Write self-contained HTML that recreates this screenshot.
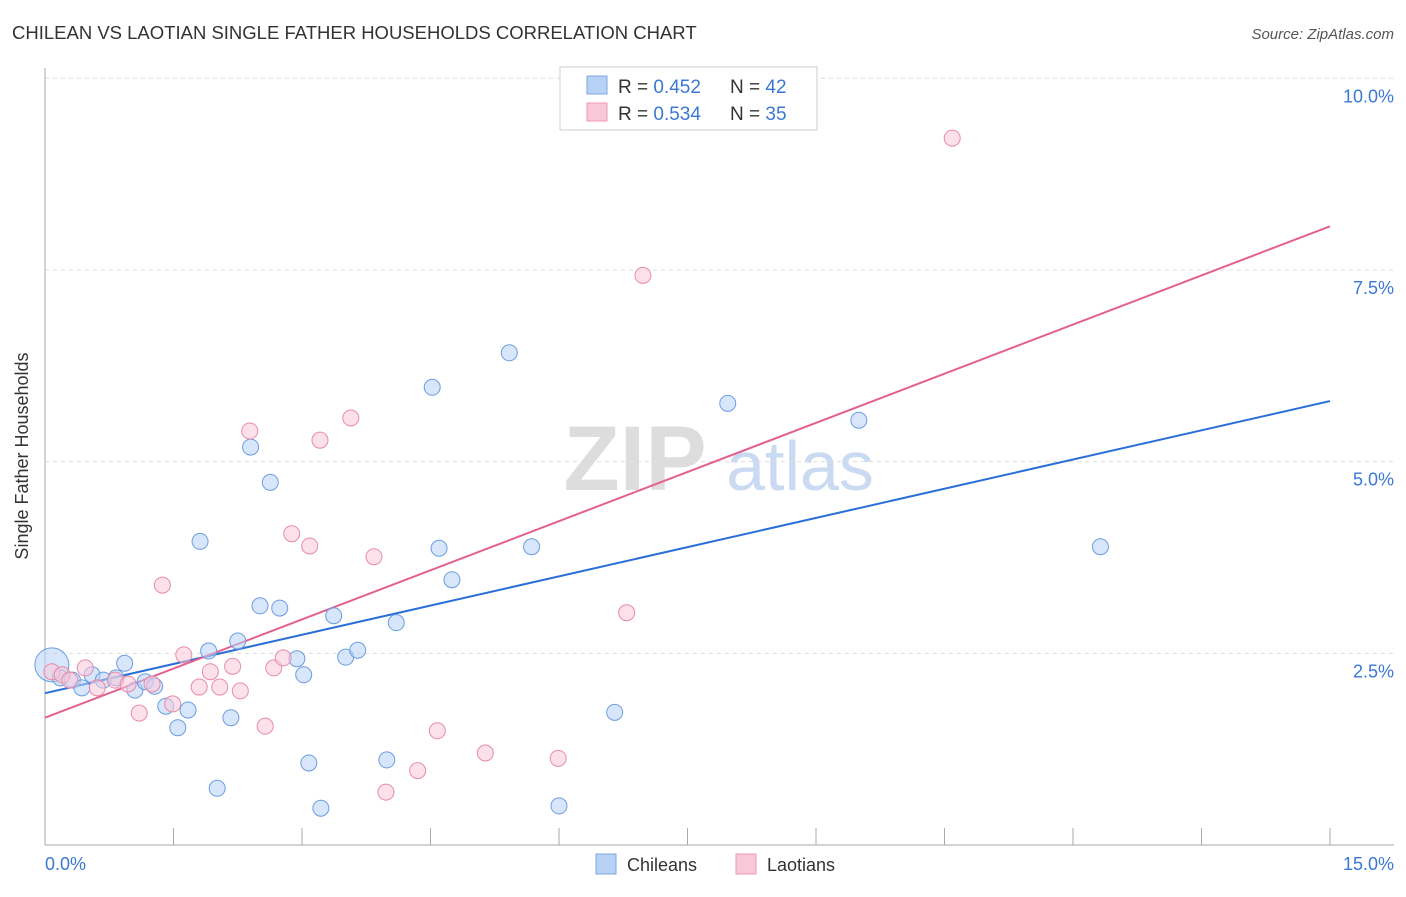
<!DOCTYPE html>
<html><head><meta charset="utf-8"><style>
body{margin:0;background:#fff;font-family:"Liberation Sans",sans-serif}
svg text{font-family:"Liberation Sans",sans-serif}
</style></head><body>
<svg width="1406" height="892" xmlns="http://www.w3.org/2000/svg">
<text x="12" y="39" font-size="18.5" fill="#333">CHILEAN VS LAOTIAN SINGLE FATHER HOUSEHOLDS CORRELATION CHART</text>
<text x="1394" y="39" font-size="15" fill="#555" text-anchor="end" font-style="italic">Source: ZipAtlas.com</text>
<text x="635" y="490" font-size="92" fill="#ddd" font-family="Liberation Serif" font-weight="bold" text-anchor="middle">ZIP</text>
<text x="800" y="490" font-size="70" fill="#c9daf2" text-anchor="middle">atlas</text>
<g id="grid"></g><g id="axes"></g><g id="lines"></g><g id="pts"></g>
<text x="28" y="456" font-size="18" fill="#333" transform="rotate(-90 28 456)" text-anchor="middle">Single Father Households</text>
<text x="45" y="870" font-size="18" fill="#3a78d4">0.0%</text>
<text x="1394" y="870" font-size="18" fill="#3a78d4" text-anchor="end">15.0%</text>
<g>
<rect x="560" y="67" width="257" height="63" fill="#fff" stroke="#ccc"/>
<rect x="587" y="76" width="20" height="18" fill="#b7d2f5" stroke="#7aa7e6"/>
<rect x="587" y="103" width="20" height="18" fill="#f9c8d8" stroke="#ec9ab6"/>
<text x="618" y="93" font-size="19" fill="#333">R = <tspan fill="#3a78d4">0.452</tspan></text>
<text x="730" y="93" font-size="19" fill="#333">N = <tspan fill="#3a78d4">42</tspan></text>
<text x="618" y="120" font-size="19" fill="#333">R = <tspan fill="#3a78d4">0.534</tspan></text>
<text x="730" y="120" font-size="19" fill="#333">N = <tspan fill="#3a78d4">35</tspan></text>
</g>
<g>
<rect x="596" y="854" width="20" height="20" fill="#b7d2f5" stroke="#7aa7e6"/>
<text x="627" y="871" font-size="18" fill="#333">Chileans</text>
<rect x="736" y="854" width="20" height="20" fill="#f9c8d8" stroke="#ec9ab6"/>
<text x="767" y="871" font-size="18" fill="#333">Laotians</text>
</g>
</svg>
<script>
const yTicks=[2.5,5.0,7.5,10.0];
const xTicks=[0,1.5,3,4.5,6,7.5,9,10.5,12,13.5,15];
const chileX=[0.08,0.18,0.32,0.43,0.55,0.68,0.83,0.93,1.05,1.17,1.28,1.41,1.55,1.67,1.81,1.91,2.01,2.17,2.25,2.40,2.51,2.63,2.74,2.94,3.02,3.08,3.22,3.37,3.51,3.65,3.99,4.10,4.52,4.60,4.75,5.42,5.68,6.00,6.65,7.97,9.50,12.32];
const chileY=[2.35,2.18,2.15,2.05,2.22,2.15,2.18,2.37,2.02,2.13,2.07,1.81,1.53,1.76,3.96,2.53,0.74,1.66,2.66,5.19,3.12,4.73,3.09,2.43,2.22,1.07,0.48,2.99,2.45,2.54,1.11,2.90,5.97,3.87,3.46,6.42,3.89,0.51,1.73,5.76,5.54,3.89];
const laoX=[0.08,0.20,0.29,0.47,0.61,0.82,0.97,1.10,1.25,1.37,1.49,1.62,1.80,1.93,2.04,2.19,2.28,2.39,2.57,2.67,2.78,2.88,3.09,3.21,3.57,3.84,3.98,4.35,4.58,5.14,5.99,6.79,6.98,10.59];
const laoY=[2.26,2.22,2.15,2.31,2.05,2.15,2.10,1.72,2.10,3.39,1.84,2.48,2.06,2.26,2.06,2.33,2.01,5.40,1.55,2.31,2.44,4.06,3.90,5.28,5.57,3.76,0.69,0.97,1.49,1.20,1.13,3.03,7.43,9.22];
const chileTrend=[1.98,5.79];
const laoTrend=[1.66,8.07];
const X=v=>45+v/15*1285, Y=v=>845-v*76.67;
const NS='http://www.w3.org/2000/svg';
function mk(p,t,a){const e=document.createElementNS(NS,t);for(const k in a)e.setAttribute(k,a[k]);document.getElementById(p).appendChild(e);return e;}
yTicks.forEach(t=>{
 const l=mk('grid','line',{x1:45,x2:1394,y1:Y(t),y2:Y(t),stroke:'#ddd','stroke-dasharray':'4 4'});
 
 
 const s=mk('grid','text',{x:1394,y:Y(t)+24,'font-size':18,fill:'#3a78d4','text-anchor':'end'});
 s.textContent=t.toFixed(1)+'%';
 
 
});
const ax=mk('axes','line',{x1:45,x2:45,y1:68,y2:845,stroke:'#aaa'});


const bx=mk('axes','line',{x1:45,x2:1394,y1:845,y2:845,stroke:'#aaa'});


xTicks.forEach(t=>{
 const l=mk('axes','line',{x1:X(t),x2:X(t),y1:828,y2:845,stroke:'#aaa'});
 
 
});
function series(xs,ys,fill,stroke,name){
 xs.forEach((x,i)=>{
  const c=mk('pts','circle',{cx:X(x),cy:Y(ys[i]),r:i===0&&name==='chilean-point'?17:8,fill:fill,'fill-opacity':0.55,stroke:stroke,'stroke-width':1});
  
  
 });
}
series(chileX,chileY,'#b7d2f5','#6c9de0','chilean-point');
series(laoX,laoY,'#f9c8d8','#e88aab','laotian-point');
const t1=mk('lines','line',{x1:X(0),y1:Y(chileTrend[0]),x2:X(15),y2:Y(chileTrend[1]),stroke:'#2a6fd6','stroke-width':2});


const t2=mk('lines','line',{x1:X(0),y1:Y(laoTrend[0]),x2:X(15),y2:Y(laoTrend[1]),stroke:'#e4608f','stroke-width':2});


</script>
</body></html>
